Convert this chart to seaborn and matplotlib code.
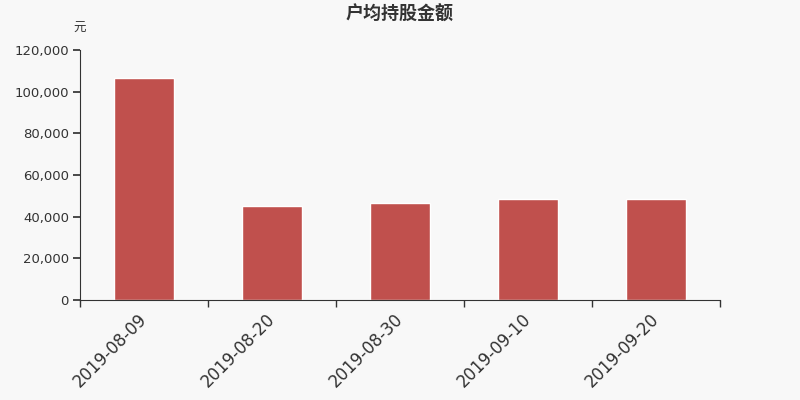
import matplotlib
matplotlib.use("Agg")
import matplotlib.pyplot as plt
import seaborn as sns
import pandas as pd
import numpy as np
from matplotlib.ticker import FuncFormatter, FixedLocator

dates = ["2019-08-09", "2019-08-20", "2019-08-30", "2019-09-10", "2019-09-20"]
values = [106600, 45000, 46500, 48600, 48400]
title = "户均持股金额"
unit = "元"

sns.set_theme(style="white")
plt.rcParams['font.family'] = ['DejaVu Sans', 'Noto Sans CJK SC']

bg = "#f8f8f8"
fig = plt.figure(figsize=(8, 4), dpi=100, facecolor=bg)
ax = fig.add_axes([0.1, 0.25, 0.8, 0.625], facecolor=bg)

df = pd.DataFrame({"date": dates, "value": values})
sns.barplot(data=df, x="date", y="value", color="#c0504d", saturation=1,
            width=0.47, ax=ax)

ax.set_ylim(0, 120000)
ax.set_xlim(-0.5, len(dates) - 0.5)
ax.set_yticks(np.arange(0, 120001, 20000))
ax.yaxis.set_major_formatter(FuncFormatter(lambda v, p: f"{int(v):,}"))
ax.set_xlabel("")
ax.set_ylabel("")

for s in ["top", "right"]:
    ax.spines[s].set_visible(False)
for s in ["left", "bottom"]:
    ax.spines[s].set_color("#333333")
    ax.spines[s].set_linewidth(0.8)

ax.tick_params(axis="y", which="major", left=True, length=5, color="#333333",
               labelsize=9.5, labelcolor="#333333", pad=3)
ax.tick_params(axis="x", which="major", bottom=False, labelsize=12,
               labelcolor="#333333", pad=6)
ax.xaxis.set_minor_locator(FixedLocator(np.arange(-0.5, len(dates), 1.0)))
ax.tick_params(axis="x", which="minor", bottom=True, length=5, color="#333333")
plt.setp(ax.get_xticklabels(), rotation=45, ha="right", va="center",
         rotation_mode="anchor")

fig.text(0.5, 0.965, title, ha="center", va="center", fontsize=13,
         fontweight="bold", color="#333333",
         family=['Noto Sans CJK SC', 'DejaVu Sans'])
fig.text(0.1, 0.928, unit, ha="center", va="center", fontsize=9,
         color="#333333", family=['Noto Sans CJK SC', 'DejaVu Sans'])

fig.savefig("out.png", dpi=100, facecolor=bg)
